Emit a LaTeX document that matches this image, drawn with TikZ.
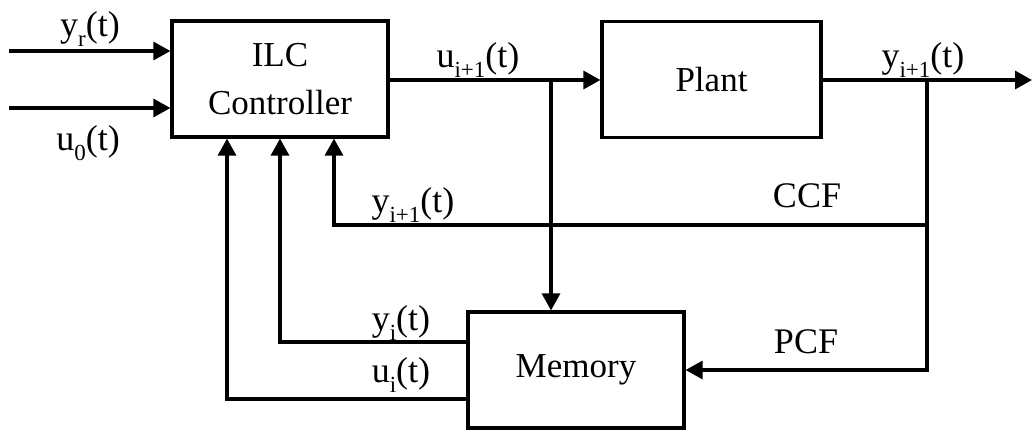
\documentclass[tikz,border=0pt]{standalone}
\usepackage{fontspec}
\setmainfont{Liberation Serif}
\usetikzlibrary{arrows.meta, positioning, calc}

% signal label: letter, lowered subscript, (t)
\newcommand{\sig}[2]{#1\raisebox{-0.3em}{\fontsize{11.5}{12}\selectfont #2}(t)}

\begin{document}
\begin{tikzpicture}[
    x=0.5pt, y=-0.5pt,
    block/.style={draw, line width=1.6pt, minimum width=108pt, minimum height=58pt, align=center, font=\fontsize{17.5}{24}\selectfont},
    lbl/.style={anchor=base, inner sep=0pt, font=\fontsize{18}{21}\selectfont},
    arrow/.style={-{Triangle[length=8.5pt, width=9pt]}, line width=1.6pt},
    wire/.style={line width=1.6pt},
]
\useasboundingbox (0,0) rectangle (1032,435);

% Blocks
\node[block] (ilc) at (280,79) {ILC\\Controller};
\node[block, minimum width=109.5pt] (plant) at (711.5,79.5) {Plant};
\node[block] (mem) at (576,370) {Memory};

% Inputs
\coordinate (yrin) at (9,51);
\coordinate (uoin) at (9,108);
\draw[arrow] (yrin) -- (yrin -| ilc.west);
\draw[arrow] (uoin) -- (uoin -| ilc.west);

% Branch points and output
\coordinate (jin) at (551,80);
\coordinate (jout) at (927,80);
\coordinate (yout) at (1032,80);

% Forward path
\draw[arrow] (ilc.east |- jin) -- (plant.west |- jin);
\draw[arrow] (plant.east |- jout) -- (yout);
\draw[arrow] (jin) -- (jin |- mem.north);

% CCF loop
\coordinate (ccf) at (334,225);
\draw[arrow] (jout) |- (ccf) -- (ccf |- ilc.south);

% PCF loop
\draw[arrow] (jout) |- (mem.east);

% Memory back to controller
\coordinate (yiturn) at (280,342);
\coordinate (uiturn) at (227,399);
\draw[arrow] (yiturn -| mem.west) -- (yiturn) -- (yiturn |- ilc.south);
\draw[arrow] (uiturn -| mem.west) -- (uiturn) -- (uiturn |- ilc.south);

% Labels
\node[lbl] (lyr) at (90,36) {\sig{y}{r}};
\node[lbl] (luo) at (88,150) {\sig{u}{0}};
\node[lbl] (luin) at (478,67) {\sig{u}{i+1}};
\node[lbl] (lyout) at (923,67) {\sig{y}{i+1}};
\node[lbl] (lyccf) at (413,212) {\sig{y}{i+1}};
\node[lbl] (lccf) at (807,207) {CCF};
\node[lbl] (lpcf) at (806,353) {PCF};
\node[lbl] (lyi) at (401,330) {\sig{y}{i}};
\node[lbl] (lui) at (401,382) {\sig{u}{i}};

\end{tikzpicture}
\end{document}
